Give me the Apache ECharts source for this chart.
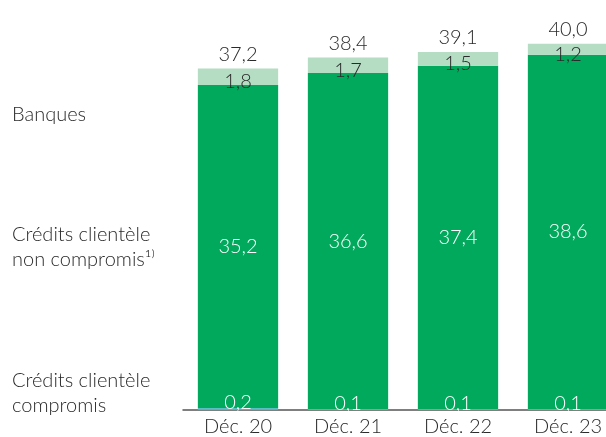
<!DOCTYPE html>
<html>
<head>
<meta charset="utf-8">
<script src="https://cdn.jsdelivr.net/npm/echarts@6/dist/echarts.min.js"></script>
<style>
  html, body { margin: 0; padding: 0; background: #fff; }
  #main { width: 606px; height: 437px; }
</style>
</head>
<body>
<div id="main"></div>
<script>
// données du graphique
var categories = ['Déc. 20', 'Déc. 21', 'Déc. 22', 'Déc. 23'];
var compromis = [0.2, 0.1, 0.1, 0.1];
var nonCompromis = [35.2, 36.6, 37.4, 38.6];
var banques = [1.8, 1.7, 1.5, 1.2];
var totals = [37.2, 38.4, 39.1, 40.0];

var myChart = echarts.init(document.getElementById('main'));
var font = 'Lato, "Open Sans", sans-serif';
var fw = 300;
var fs = 20;
var textColor = '#2a2a2a';

function fr(v) {
  return v.toFixed(1).replace('.', ',');
}

var option = {
  animation: false,
  textStyle: { fontFamily: font, fontWeight: fw },
  grid: { left: 183, width: 440, top: 6, bottom: 27, containLabel: false, outerBoundsMode: 'none' },
  xAxis: {
    type: 'category',
    data: categories,
    axisTick: { show: false },
    axisLine: { lineStyle: { color: '#555', width: 1.5 } },
    axisLabel: { fontSize: fs, color: textColor, margin: 7, fontFamily: font, fontWeight: fw }
  },
  yAxis: {
    type: 'value',
    min: 0,
    max: 44,
    show: false
  },
  graphic: [
    { type: 'text', left: 12, top: 105, style: { text: 'Banques', fontSize: fs, fill: textColor, fontFamily: font, fontWeight: fw } },
    { type: 'text', left: 12, top: 222, style: {
      text: 'Crédits clientèle\nnon compromis¹⁾',
      fontSize: fs, lineHeight: 25, fill: textColor, fontFamily: font, fontWeight: fw
    } },
    { type: 'text', left: 12, top: 368, style: {
      text: 'Crédits clientèle\ncompromis', fontSize: fs, lineHeight: 25, fill: textColor, fontFamily: font, fontWeight: fw
    } }
  ],
  series: [
    {
      name: 'Crédits clientèle compromis',
      type: 'bar',
      stack: 'total',
      barCategoryGap: '27%',
      data: compromis,
      itemStyle: { color: '#4ab6e0' },
      label: {
        show: true, position: 'top', distance: -4,
        color: '#fff', fontSize: fs, fontFamily: font, fontWeight: fw,
        formatter: function (p) { return fr(p.value); }
      }
    },
    {
      name: 'Crédits clientèle non compromis',
      type: 'bar',
      stack: 'total',
      data: nonCompromis,
      itemStyle: { color: '#00a95c' },
      label: {
        show: true, position: 'inside',
        color: '#fff', fontSize: fs, fontFamily: font, fontWeight: fw,
        formatter: function (p) { return fr(p.value); }
      }
    },
    {
      name: 'Banques',
      type: 'bar',
      stack: 'total',
      data: banques,
      itemStyle: { color: '#b4ddc4' },
      label: {
        show: true, position: 'inside', offset: [0, 5],
        color: textColor, fontSize: fs, fontFamily: font, fontWeight: fw,
        formatter: function (p) { return fr(p.value); }
      }
    },
    {
      name: 'Total',
      type: 'line',
      data: totals,
      symbol: 'circle',
      symbolSize: 1,
      itemStyle: { color: 'rgba(0,0,0,0)' },
      lineStyle: { color: 'rgba(0,0,0,0)' },
      label: {
        show: true, position: 'top', distance: 3,
        color: textColor, fontSize: fs, fontFamily: font, fontWeight: fw,
        formatter: function (p) { return fr(p.value); }
      }
    }
  ]
};

myChart.setOption(option);
</script>
</body>
</html>
